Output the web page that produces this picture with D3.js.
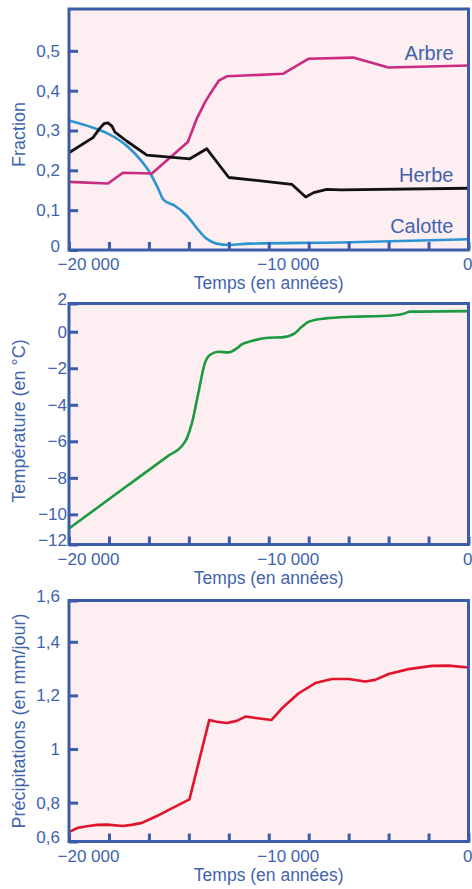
<!DOCTYPE html>
<html>
<head>
<meta charset="utf-8">
<script src="https://cdn.jsdelivr.net/npm/d3@7"></script>
<style>
  body { margin: 0; background: #fff; }
</style>
</head>
<body>
<div id="chart"></div>
<script>
// Values: [year, value]
var arbre = [[-20000,0.171],[-18050,0.167],[-17300,0.194],[-15850,0.192],[-14050,0.271],[-13600,0.33],
  [-13200,0.37],[-12900,0.395],[-12500,0.425],[-12100,0.436],[-9270,0.4425],[-8020,0.48],[-5770,0.483],
  [-4010,0.458],[0,0.463]];
var herbe = [[-20000,0.244],[-18800,0.282],[-18450,0.306],[-18250,0.317],[-18050,0.319],[-17850,0.311],
  [-17700,0.296],[-17100,0.273],[-16100,0.238],[-13950,0.229],[-13100,0.254],[-12000,0.182],[-8850,0.165],
  [-8150,0.133],[-7750,0.144],[-7100,0.152],[-6400,0.151],[0,0.155]];
var calotte = [[-20000,0.325],[-18800,0.307],[-18050,0.292],[-17100,0.261],[-16450,0.228],[-15950,0.194],
  [-15600,0.161],[-15250,0.125],[-14700,0.111],[-14100,0.086],[-13600,0.055],[-13200,0.032],[-12900,0.022],
  [-12600,0.016],[-12000,0.0125],[-11000,0.016],[-6400,0.019],[0,0.027]];
var temperature = [[-20000,-10.77],[-17000,-8.37],[-15000,-6.77],[-14350,-6.26],[-14100,-5.84],[-13850,-5.02],
  [-13530,-3.38],[-13200,-1.73],[-12950,-1.28],[-12530,-1.10],[-12000,-1.13],[-11600,-0.91],[-11350,-0.69],
  [-10850,-0.51],[-10000,-0.33],[-9350,-0.31],[-8700,-0.09],[-8350,0.27],[-8000,0.55],[-7150,0.73],
  [-5850,0.82],[-4300,0.86],[-3300,0.97],[-2900,1.10],[0,1.13]];
var precipitations = [[-20000,0.69],[-19600,0.705],[-19100,0.712],[-18600,0.717],[-18100,0.718],[-17300,0.713],
  [-16800,0.718],[-16350,0.7245],[-15600,0.75],[-15000,0.773],[-13970,0.812],[-12980,1.108],[-12600,1.102],
  [-12100,1.097],[-11600,1.105],[-11170,1.121],[-9870,1.108],[-9340,1.152],[-8500,1.208],[-7670,1.246],
  [-6840,1.261],[-6000,1.261],[-5170,1.252],[-4670,1.258],[-4000,1.28],[-3000,1.298],[-1830,1.31],
  [-1000,1.311],[0,1.304]];

var fractionTicks = [0, 0.1, 0.2, 0.3, 0.4, 0.5];
var temperatureTicks = [2, 0, -2, -4, -6, -8, -10, -12];
var precipTicks = [1.6, 1.4, 1.2, 1, 0.8, 0.6];
var yearTicks = d3.range(-20000, 1, 2000);
var yearLabels = [-20000, -10000, 0];

// Set up the chart
var svgWidth = 472;
var svgHeight = 889;
var left = 69;
var width = 399.5;
var height = 241;

var frameBlue = "#3a5ca9";
var textBlue = "#4263ad";
var pink = "#fdeef2";
var font = "'Liberation Sans', Arial, sans-serif";

var fr = d3.formatLocale({decimal: ",", thousands: " ", grouping: [3], currency: ["", ""], minus: "\u2212"});
var fmtDec = fr.format(".1~f");
var fmtInt = fr.format(",d");

var svg = d3.select("#chart")
  .append("svg")
  .attr("width", svgWidth)
  .attr("height", svgHeight);

var xScale = d3.scaleLinear().domain([-20000, 0]).range([0, width]);

function drawPanel(p) {
  var g = svg.append("g").attr("transform", `translate(${left}, ${p.top})`);
  var yScale = d3.scaleLinear().domain(p.domain).range([height, 0]);

  g.append("rect").attr("width", width).attr("height", height).attr("fill", pink);

  p.series.forEach(function(s) {
    var line = d3.line()
      .x(d => xScale(d[0]))
      .y(d => yScale(d[1]))
      .curve(s.curve || d3.curveLinear);
    g.append("path")
      .datum(s.data)
      .attr("d", line)
      .attr("fill", "none")
      .attr("stroke", s.color)
      .attr("stroke-width", s.width || 2.6)
      .attr("stroke-linejoin", "round");
    if (s.name) {
      g.append("text")
        .text(s.name)
        .attr("x", width - 15)
        .attr("y", yScale(s.data[s.data.length - 1][1]) - 6)
        .attr("text-anchor", "end")
        .attr("font-family", font)
        .attr("font-size", 20)
        .attr("fill", textBlue);
    }
  });

  g.append("rect").attr("width", width).attr("height", height)
    .attr("fill", "none").attr("stroke", frameBlue).attr("stroke-width", 3);

  // y axis, labels outside the range sit on the frame edges
  var yAxisScale = yScale.copy().clamp(true);
  var yAxis = g.append("g")
    .call(d3.axisLeft(yAxisScale).tickValues(p.ticks).tickSizeInner(-9).tickSizeOuter(0)
      .tickPadding(p.pad).tickFormat(p.format));
  yAxis.select(".domain").remove();
  yAxis.selectAll(".tick line").attr("stroke", frameBlue).attr("stroke-width", 3);
  yAxis.selectAll(".tick text")
    .attr("fill", textBlue).attr("font-family", font).attr("font-size", 17)
    .filter(d => d <= p.domain[0] || d >= p.domain[1])
    .attr("y", -4);

  var xAxis = g.append("g")
    .attr("transform", `translate(0, ${height})`)
    .call(d3.axisBottom(xScale).tickValues(yearTicks).tickSizeInner(-8).tickSizeOuter(0)
      .tickPadding(8).tickFormat(d => yearLabels.includes(d) ? fmtInt(d) : ""));
  xAxis.select(".domain").remove();
  xAxis.selectAll(".tick line").attr("stroke", frameBlue).attr("stroke-width", 3);
  xAxis.selectAll(".tick text")
    .attr("fill", textBlue).attr("font-family", font).attr("font-size", 17)
    .attr("text-anchor", d => d < 0 ? "start" : "end")
    .attr("x", d => d < 0 ? -12 : 3.5);

  // Axis labels
  svg.append("text")
    .text(p.title)
    .attr("transform", `translate(25, ${p.top + height / 2 + (p.titleShift || 0)}) rotate(-90)`)
    .attr("text-anchor", "middle")
    .attr("font-family", font)
    .attr("font-size", 18)
    .attr("fill", textBlue);

  svg.append("text")
    .text("Temps (en années)")
    .attr("x", left + width / 2)
    .attr("y", p.top + height + 39)
    .attr("text-anchor", "middle")
    .attr("font-family", font)
    .attr("font-size", 17.5)
    .attr("fill", textBlue);
}

drawPanel({
  top: 9, domain: [0, 0.605], ticks: fractionTicks, pad: 9, format: fmtDec, title: "Fraction", titleShift: 5,
  series: [
    {data: calotte, color: "#2b94d0", name: "Calotte", curve: d3.curveMonotoneX},
    {data: arbre, color: "#cc2a80", name: "Arbre"},
    {data: herbe, color: "#111111", name: "Herbe", width: 2.8}
  ]
});

drawPanel({
  top: 303.5, domain: [-11.65, 1.545], ticks: temperatureTicks, pad: 2, format: fmtInt,
  title: "Température (en °C)", titleShift: -3,
  series: [{data: temperature, color: "#1c9a40", curve: d3.curveMonotoneX}]
});

drawPanel({
  top: 600.5, domain: [0.655, 1.554], ticks: precipTicks, pad: 9, format: fmtDec,
  title: "Précipitations (en mm/jour)",
  series: [{data: precipitations, color: "#e2132d"}]
});
</script>
</body>
</html>
